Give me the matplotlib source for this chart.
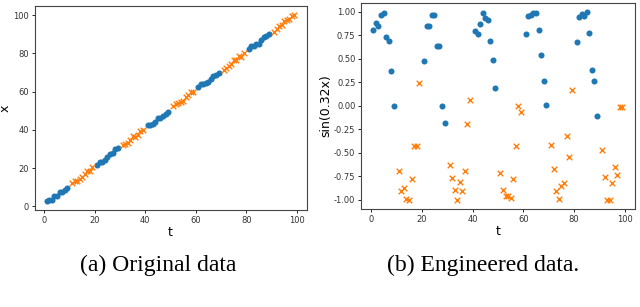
import matplotlib
matplotlib.use("Agg")
import matplotlib.pyplot as plt
import numpy as np

# time index of each point, by group (blue = class A, orange = class B)
t_blue = [1, 2, 3, 4, 5, 6, 7, 8, 9,
          21, 22, 23, 24, 25, 26, 27, 28, 29,
          41, 42, 43, 44, 45, 46, 47, 48, 49,
          61, 62, 63, 64, 65, 66, 67, 68, 69,
          81, 82, 83, 84, 85, 86, 87, 88, 89]
t_orange = [11, 12, 13, 14, 15, 16, 17, 18, 19,
            31, 32, 33, 34, 35, 36, 37, 38, 39,
            51, 52, 53, 54, 55, 56, 57, 58, 59,
            71, 72, 73, 74, 75, 76, 77, 78, 79,
            91, 92, 93, 94, 95, 96, 97, 98, 99]

# original feature x
x_blue = [3.0, 3.3, 3.2, 5.6, 5.6, 7.3, 7.5, 8.7, 9.9,
          21.5, 23.1, 23.2, 24.1, 25.7, 27.6, 27.7, 29.8, 30.4,
          42.8, 42.7, 43.3, 44.4, 46.0, 46.3, 47.5, 48.3, 49.3,
          62.6, 63.8, 64.0, 64.3, 65.3, 66.8, 68.0, 69.0, 69.8,
          82.2, 83.8, 84.1, 84.7, 85.2, 87.0, 88.6, 89.0, 90.2]
x_orange = [12.3, 13.5, 13.4, 14.5, 15.2, 17.0, 18.4, 18.5, 20.6,
            32.0, 32.7, 33.4, 34.5, 36.8, 36.2, 37.4, 39.2, 40.0,
            52.5, 53.4, 54.0, 54.7, 55.4, 57.0, 58.4, 59.8, 59.9,
            71.2, 72.2, 73.4, 74.4, 76.5, 76.7, 78.7, 78.0, 80.3,
            91.4, 92.6, 94.4, 95.1, 96.8, 97.6, 98.1, 99.8, 99.9]

# engineered feature sin(0.32x)
s_blue = [0.81, 0.88, 0.85, 0.97, 0.985, 0.73, 0.69, 0.37, 0.0,
          0.48, 0.85, 0.85, 0.97, 0.97, 0.64, 0.64, 0.0, -0.185,
          0.80, 0.77, 0.875, 0.985, 0.935, 0.91, 0.69, 0.485, 0.19,
          0.767, 0.953, 0.971, 0.986, 0.986, 0.813, 0.54, 0.26, 0.01,
          0.677, 0.95, 0.975, 0.96, 0.995, 0.78, 0.38, 0.26, -0.11]
s_orange = [-0.69, -0.91, -0.88, -0.99, -1.0, -0.78, -0.43, -0.43, 0.245,
            -0.63, -0.77, -0.90, -1.0, -0.81, -0.91, -0.69, -0.196, 0.06,
            -0.72, -0.90, -0.965, -0.957, -0.986, -0.777, -0.433, -0.005, -0.07,
            -0.415, -0.677, -0.903, -0.993, -0.853, -0.817, -0.325, -0.548, 0.174,
            -0.469, -0.76, -1.0, -1.0, -0.817, -0.648, -0.734, -0.013, -0.013]

captions = ["(a) Original data", "(b) Engineered data."]
ylabels = ["x", "sin(0.32x)"]

BLUE = "#1f77b4"
ORANGE = "#ff7f0e"

fig = plt.figure(figsize=(6.4, 3.07), dpi=100)
ax1 = fig.add_axes([0.054, 0.316, 0.425, 0.664])
ax2 = fig.add_axes([0.564, 0.319, 0.428, 0.671])

for ax, yb, yo, yl in [(ax1, x_blue, x_orange, ylabels[0]),
                       (ax2, s_blue, s_orange, ylabels[1])]:
    ax.scatter(t_blue, yb, s=19, color=BLUE, marker="o", linewidths=0)
    ax.scatter(t_orange, yo, s=16, color=ORANGE, marker="x", linewidths=1.0)
    ax.set_xlabel("t", fontsize=9, labelpad=1)
    ax.set_ylabel(yl, fontsize=9, labelpad=1)
    ax.tick_params(labelsize=6, length=2.5, width=0.6, pad=1.5, labelcolor="#333333")
    for sp in ax.spines.values():
        sp.set_linewidth(0.8)
        sp.set_color("#444444")

ax1.set_xticks([0, 20, 40, 60, 80, 100])
ax1.set_yticks([0, 20, 40, 60, 80, 100])
ax2.set_xticks([0, 20, 40, 60, 80, 100])
ax2.set_yticks([-1.0, -0.75, -0.5, -0.25, 0.0, 0.25, 0.5, 0.75, 1.0])
ax2.yaxis.set_major_formatter(matplotlib.ticker.FormatStrFormatter("%.2f"))

fig.text(0.247, 0.137, captions[0], ha="center", va="center",
         fontsize=17, family="Liberation Serif")
fig.text(0.755, 0.137, captions[1], ha="center", va="center",
         fontsize=17, family="Liberation Serif")

fig.savefig("out.png", dpi=100)
